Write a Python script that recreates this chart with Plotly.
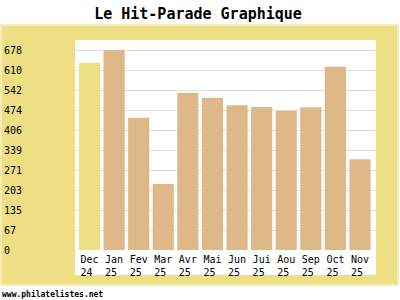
import plotly.graph_objects as go

categories = ["Dec<br>24\u00a0", "Jan<br>25\u00a0", "Fev<br>25\u00a0", "Mar<br>25\u00a0",
              "Avr<br>25\u00a0", "Mai<br>25\u00a0", "Jun<br>25\u00a0", "Jui<br>25\u00a0",
              "Aou<br>25\u00a0", "Sep<br>25\u00a0", "Oct<br>25\u00a0", "Nov<br>25\u00a0"]
values = [635, 678, 448, 224, 533, 516, 491, 485, 472, 484, 621, 308]
bar_colors = ["#EEDF84"] + ["#DEB887"] * 11
ytick_vals = [0, 67.8, 135.6, 203.4, 271.2, 339, 406.8, 474.6, 542.4, 610.2, 678]
ytick_text = ["0", "67", "135", "203", "271", "339", "406", "474", "542", "610", "678"]

NB = "\u00a0"
ytick_text_padded = [t + NB * (3 - len(t)) for t in ytick_text]

YELLOW = "#EEDF84"

fig = go.Figure()
fig.add_trace(go.Bar(
    x=list(range(len(categories))), y=values,
    marker=dict(color=bar_colors, line=dict(width=0)),
    width=0.86,
    hoverinfo="skip",
))

fig.update_layout(
    width=400, height=300,
    margin=dict(l=75, r=24, t=40, b=50, autoexpand=False),
    paper_bgcolor="white",
    plot_bgcolor="white",
    showlegend=False,
    title=dict(text="<b>Le Hit-Parade Graphique</b>", x=0.495, xref="container", xanchor="center",
               y=1 - 14 / 300, yref="container", yanchor="middle",
               font=dict(family="DejaVu Sans Mono", size=15, color="black")),
    xaxis=dict(
        tickmode="array", tickvals=list(range(len(categories))), ticktext=categories,
        range=[-0.59, 11.65], automargin=False,
        showgrid=False, zeroline=False, showline=False, ticks="",
        tickfont=dict(family="DejaVu Sans Mono", size=10, color="black"),
        ticklabelstandoff=2,
    ),
    yaxis=dict(
        range=[0, 678 * 210 / 200], automargin=False,
        tickmode="array", tickvals=ytick_vals, ticktext=ytick_text_padded,
        showgrid=True, gridcolor="#DEDEDE", gridwidth=1,
        zeroline=False, showline=False, ticks="",
        tickfont=dict(family="DejaVu Sans Mono", size=10, color="black"),
        ticklabelstandoff=52,
    ),
    shapes=[
        dict(type="rect", xref="paper", yref="paper", layer="below",
             x0=(1 - 75) / 301, x1=(398 - 75) / 301,
             y0=(250 - 285) / 210, y1=(250 - 25) / 210,
             fillcolor=YELLOW, line=dict(color="#F6EDB4", width=2)),
        dict(type="rect", xref="paper", yref="paper", layer="below",
             x0=0, x1=1, y0=(250 - 275) / 210, y1=1,
             fillcolor="white", line=dict(width=0)),
    ],
    annotations=[
        dict(text="<b>www.philatelistes.net</b>", xref="paper", yref="paper",
             x=(0 - 75) / 301, y=(250 - 294) / 210, xanchor="left", yanchor="middle",
             showarrow=False, font=dict(family="DejaVu Sans Mono", size=8, color="black")),
    ],
)

fig.write_html("out.html")
